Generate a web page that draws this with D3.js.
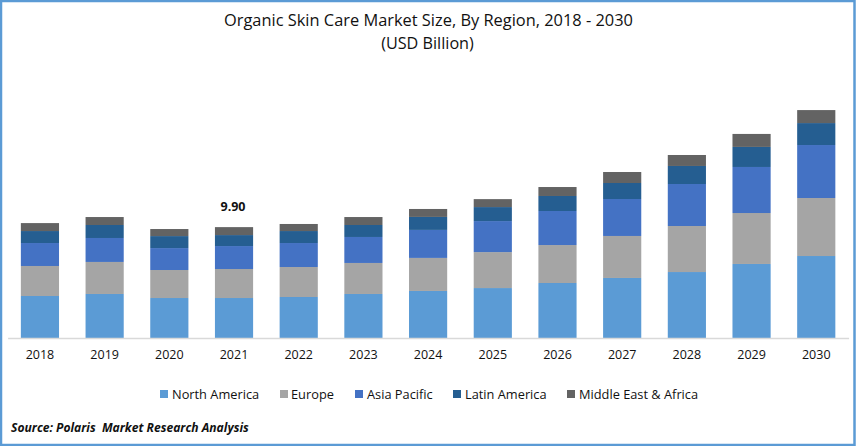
<!DOCTYPE html>
<html>
<head>
<meta charset="utf-8">
<script src="https://cdn.jsdelivr.net/npm/d3@7"></script>
<style>
  html, body { margin: 0; padding: 0; background: #fff; }
  svg { display: block; }
  text { font-family: "Open Sans", sans-serif; fill: #111; }
</style>
</head>
<body>
<div id="chart"></div>
<script>
// Values (USD billion)
const years = ["2018", "2019", "2020", "2021", "2022", "2023", "2024", "2025", "2026", "2027", "2028", "2029", "2030"];
const regions = ["North America", "Europe", "Asia Pacific", "Latin America", "Middle East & Africa"];
const northAmerica = [3.75, 3.93, 3.57, 3.57, 3.66, 3.93, 4.20, 4.46, 4.91, 5.36, 5.89, 6.61, 7.32];
const europe = [2.68, 2.86, 2.50, 2.59, 2.68, 2.77, 2.95, 3.21, 3.39, 3.75, 4.11, 4.55, 5.18];
const asiaPacific = [2.05, 2.14, 1.96, 2.05, 2.14, 2.32, 2.50, 2.77, 3.04, 3.30, 3.75, 4.11, 4.73];
const latinAmerica = [1.07, 1.16, 1.07, 0.98, 1.07, 1.07, 1.16, 1.25, 1.34, 1.43, 1.61, 1.79, 1.96];
const middleEast = [0.71, 0.71, 0.63, 0.71, 0.63, 0.71, 0.71, 0.71, 0.80, 0.98, 0.98, 1.16, 1.16];
const colors = ["#5b9bd5", "#a5a5a5", "#4472c4", "#255e91", "#636363"];
const labelYear = "2021";
const labelText = "9.90";

const width = 856;
const height = 446;

const svg = d3.select("#chart")
    .append("svg")
    .attr("width", width)
    .attr("height", height);

// Outer frame
svg.append("rect")
    .attr("x", 1)
    .attr("y", 1)
    .attr("width", width - 2.5)
    .attr("height", height - 2)
    .attr("fill", "#fff")
    .attr("stroke", "#5b9bd5")
    .attr("stroke-width", 2.5);

// Title
svg.append("text")
    .attr("x", 428.5)
    .attr("y", 26)
    .attr("text-anchor", "middle")
    .attr("font-size", 16.4)
    .text("Organic Skin Care Market Size, By Region, 2018 - 2030");

svg.append("text")
    .attr("x", 427.5)
    .attr("y", 49)
    .attr("text-anchor", "middle")
    .attr("font-size", 16.2)
    .text("(USD Billion)");

// Scales
const x = d3.scaleBand()
    .domain(years)
    .range([7.6, 848.6])
    .paddingInner(0.41)
    .paddingOuter(0.205);

const y = d3.scaleLinear()
    .domain([0, 20])
    .range([338, 114]);

const color = d3.scaleOrdinal()
    .domain(regions)
    .range(colors);

// Stack the regions per year
const rows = years.map((year, i) => ({
    year: year,
    "North America": northAmerica[i],
    "Europe": europe[i],
    "Asia Pacific": asiaPacific[i],
    "Latin America": latinAmerica[i],
    "Middle East & Africa": middleEast[i]
}));

const series = d3.stack().keys(regions)(rows);

svg.append("g")
    .selectAll("g")
    .data(series)
    .enter()
    .append("g")
    .attr("fill", d => color(d.key))
    .selectAll("rect")
    .data(d => d)
    .enter()
    .append("rect")
    .attr("x", d => x(d.data.year))
    .attr("y", d => y(d[1]))
    .attr("width", x.bandwidth())
    .attr("height", d => y(d[0]) - y(d[1]));

// X axis
const axis = svg.append("g")
    .attr("transform", "translate(0,338)")
    .call(d3.axisBottom(x).tickSize(0).tickPadding(12));

axis.select(".domain")
    .attr("stroke", "#d9d9d9")
    .attr("stroke-width", 1.5);

axis.selectAll("text")
    .attr("font-size", 12.5)
    .style("font-family", '"Open Sans", sans-serif')
    .attr("fill", "#111");

// Label on the one annotated bar
const labelRow = rows.find(d => d.year === labelYear);
svg.append("text")
    .attr("x", x(labelYear) + x.bandwidth() / 2 - 1)
    .attr("y", y(d3.sum(regions, r => labelRow[r])) - 16)
    .attr("text-anchor", "middle")
    .attr("font-size", 12.5)
    .attr("font-weight", "bold")
    .text(labelText);

// Legend
const legendX = [160, 280, 355, 453, 567];
const legend = svg.append("g")
    .selectAll("g")
    .data(regions)
    .enter()
    .append("g")
    .attr("transform", (d, i) => `translate(${legendX[i]},390)`);

legend.append("rect")
    .attr("width", 8)
    .attr("height", 8)
    .attr("fill", d => color(d));

legend.append("text")
    .attr("x", (d, i) => i === 1 ? 11 : 12)
    .attr("y", 8.5)
    .attr("font-size", 12.8)
    .text(d => d);

// Source
svg.append("text")
    .attr("x", 11)
    .attr("y", 432)
    .attr("font-size", 12.1)
    .attr("font-weight", "bold")
    .attr("font-style", "italic")
    .text("Source: Polaris  Market Research Analysis")
    .attr("xml:space", "preserve");
</script>
</body>
</html>
